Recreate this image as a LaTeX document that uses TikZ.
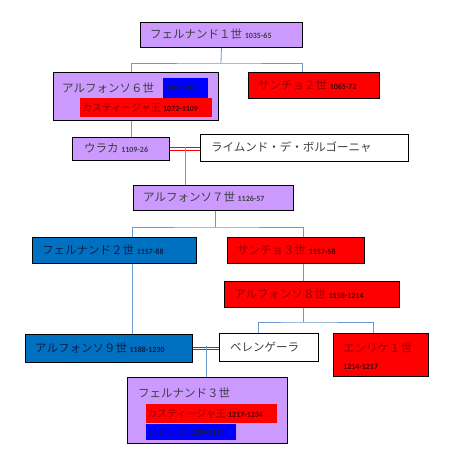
\documentclass[tikz,border=0pt]{standalone}
\usepackage{fontspec}
\setmainfont{Carlito}
\newfontfamily\jp{Noto Sans CJK JP}
\newfontfamily\yrf{Carlito}
\usetikzlibrary{calc}
\definecolor{lav}{RGB}{204,153,255}
\definecolor{dblue}{RGB}{0,112,192}
\definecolor{conncol}{RGB}{106,155,209}
\definecolor{txtg}{RGB}{64,64,64}
\definecolor{txtr}{RGB}{150,0,0}
\definecolor{txtb}{RGB}{20,30,70}
\newcommand{\yr}[1]{{\yrf\bfseries\fontsize{8}{9}\selectfont #1}}
\tikzset{
  box/.style={draw=black, line width=0.9pt, rectangle, inner sep=0pt, anchor=north west},
  pbox/.style={box, fill=lav},
  rbox/.style={box, fill=red},
  bbox/.style={box, fill=dblue},
  wbox/.style={box, fill=white},
  jt/.style={anchor=west, inner sep=0pt, font=\jp\fontsize{11.5}{14}\selectfont},
  conn/.style={draw=conncol, line width=0.8pt},
  marr/.style={draw=red, line width=1pt, double=white, double distance=1.3pt},
  inbox/.style={rectangle, inner sep=0pt, anchor=north west}
}
\begin{document}
\begin{tikzpicture}[x=1pt,y=-1pt]
\useasboundingbox (0,0) rectangle (450,457);
% boxes
\node[pbox, minimum width=162pt, minimum height=25pt] (f1) at (140,22) {};
\node[pbox, minimum width=165pt, minimum height=48pt] (a6) at (53,72) {};
\node[rbox, minimum width=131pt, minimum height=26pt] (s2) at (248,72) {};
\node[pbox, minimum width=97pt, minimum height=23pt] (ur) at (72,137) {};
\node[wbox, minimum width=208pt, minimum height=27pt] (rm) at (200,134) {};
\node[pbox, minimum width=160pt, minimum height=25pt] (a7) at (133,185) {};
\node[bbox, minimum width=164pt, minimum height=26pt] (f2) at (32,237) {};
\node[rbox, minimum width=137pt, minimum height=26pt] (s3) at (227,237) {};
\node[rbox, minimum width=175pt, minimum height=26pt] (a8) at (224,281) {};
\node[bbox, minimum width=167pt, minimum height=28pt] (a9) at (25,334) {};
\node[wbox, minimum width=99pt, minimum height=28pt] (be) at (219,333) {};
\node[rbox, minimum width=95pt, minimum height=43pt] (en) at (333,333) {};
\node[pbox, minimum width=160pt, minimum height=66pt] (f3) at (127,377) {};
% inner colored boxes
\node[inbox, fill=blue, minimum width=45pt, minimum height=20pt] (a6b) at (163,78) {};
\node[inbox, fill=red, minimum width=132pt, minimum height=19pt] (a6r) at (80,98) {};
\node[inbox, fill=red, minimum width=131pt, minimum height=19pt] (f3r) at (146,404) {};
\node[inbox, fill=blue, minimum width=90pt, minimum height=16pt] (f3b) at (146,424) {};
% texts
\node[jt, text=txtg] at (150,34.5) {フェルナンド１世 \yr{1035-65}};
\node[jt, text=txtg] at (62,88) {アルフォンソ６世};
\node[jt, text=txtb, anchor=west] at (a6b.west) {\yr{1065-1109}};
\node[jt, text=txtr, anchor=west, font=\jp\fontsize{10}{12}\selectfont] at ([xshift=2pt]a6r.west) {カスティージャ王 {\color{black!70!red}\yr{1072-1109}}};
\node[jt, text=txtr] at (258,85) {サンチョ２世 {\color{black!70!red}\yr{1065-72}}};
\node[jt, text=txtg] at (84,148.5) {ウラカ \yr{1109-26}};
\node[jt, text=txtg] at (211,147.5) {ライムンド・デ・ボルゴーニャ};
\node[jt, text=txtg] at (143,197.5) {アルフォンソ７世 \yr{1126-57}};
\node[jt, text=txtb] at (42,250) {フェルナンド２世 \yr{1157-88}};
\node[jt, text=txtr] at (237,250) {サンチョ３世 {\color{black!70!red}\yr{1157-58}}};
\node[jt, text=txtr] at (234,294) {アルフォンソ８世 {\color{black!70!red}\yr{1158-1214}}};
\node[jt, text=txtb] at (35,348) {アルフォンソ９世 \yr{1188-1230}};
\node[jt, text=txtg] at (230,347) {ベレンゲーラ};
\node[jt, text=txtr] at (343,348) {エンリケ１世};
\node[jt, text=black!70!red] at (343,367) {\yr{1214-1217}};
\node[jt, text=txtg] at (138,393) {フェルナンド３世};
\node[jt, text=txtr, font=\jp\fontsize{10}{12}\selectfont] at ([xshift=1pt]f3r.west) {カスティージャ王 {\color{black!70!red}\yr{1217-1234}}};
\node[jt, text=txtb, font=\jp\fontsize{10}{12}\selectfont] at ([xshift=1pt]f3b.west) {レオン王 \yr{1230-1234}};
% connectors
\coordinate (j1) at (221,63);
\draw[conn] (f1.south) -- (j1);
\draw[conn] (a6.north -| 131,0) |- (j1) -| (s2.north -| 302,0);
\draw[conn] (a6.south -| 131,0) -- (ur.north -| 131,0);
\draw[marr] (ur.east) -- (ur.east -| rm.west);
\coordinate (m1) at ($(ur.east)!0.5!(ur.east -| rm.west)$);
\draw[conn] ([yshift=2pt]m1) -- (a7.north -| m1);
\coordinate (j2) at (215,227);
\draw[conn] (a7.south -| j2) -- (j2);
\draw[conn] (f2.north -| 132,0) |- (j2) -| (s3.north -| 303,0);
\draw[conn] (f2.south -| 132,0) -- (a9.north -| 132,0);
\draw[conn] (s3.south -| 303,0) -- (a8.north -| 303,0);
\coordinate (j3) at (303,322);
\draw[conn] (a8.south -| j3) -- (j3);
\draw[conn] (be.north -| 258,0) |- (j3) -| (en.north -| 373,0);
\draw[marr] (a9.east) -- (a9.east -| be.west);
\coordinate (m2) at ($(a9.east)!0.5!(a9.east -| be.west)$);
\draw[conn] ([yshift=2pt]m2) -- (f3.north -| m2);
\end{tikzpicture}
\end{document}
